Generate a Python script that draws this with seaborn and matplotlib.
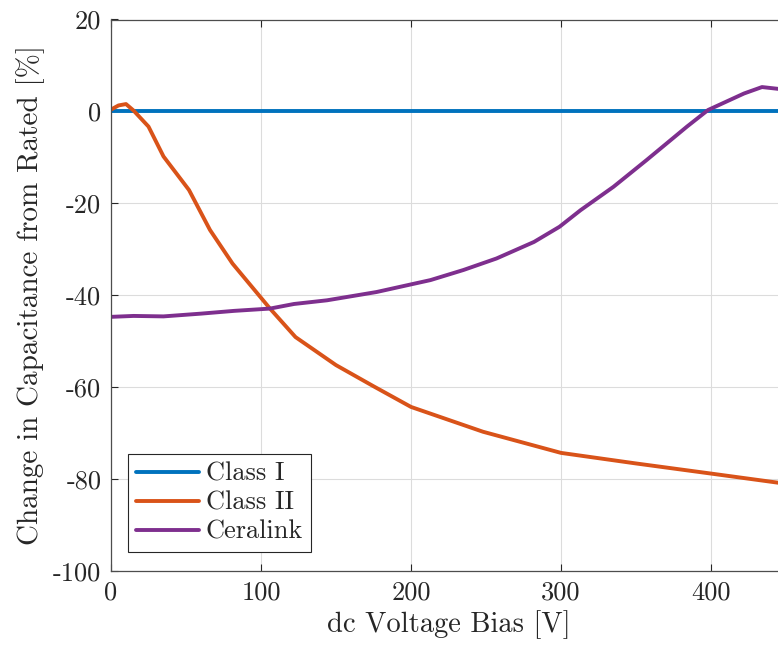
import numpy as np
import pandas as pd
import matplotlib
matplotlib.use("Agg")
import matplotlib.pyplot as plt
import seaborn as sns

# ---- data ----
class1_x = [0, 450]
class1_y = [0, 0]

class2_x = [0, 5, 10, 15, 25, 35, 52, 66, 81, 106, 123, 150, 175, 200, 248, 300, 350, 400, 445]
class2_y = [0.4, 1.3, 1.6, 0.2, -3.3, -9.8, -17.1, -25.8, -33.1, -42.9, -49.1, -55.2, -59.8, -64.3, -69.7, -74.3, -76.6, -78.8, -80.8]

ceralink_x = [0, 15, 35, 60, 82, 106, 122, 144, 177, 213, 235, 257, 282, 299, 313, 335, 357, 384, 398, 422, 434, 445]
ceralink_y = [-44.7, -44.5, -44.6, -44.0, -43.4, -42.9, -41.9, -41.1, -39.3, -36.7, -34.5, -32.0, -28.4, -25.1, -21.5, -16.4, -10.6, -3.3, 0.3, 3.9, 5.3, 4.9]

series_names = ["Class I", "Class II", "Ceralink"]
colors = ["#0072BD", "#D95319", "#7E2F8E"]

xticks = [0, 100, 200, 300, 400]
yticks = [-100, -80, -60, -40, -20, 0, 20]

df = pd.concat([
    pd.DataFrame({"x": class1_x, "y": class1_y, "s": series_names[0]}),
    pd.DataFrame({"x": class2_x, "y": class2_y, "s": series_names[1]}),
    pd.DataFrame({"x": ceralink_x, "y": ceralink_y, "s": series_names[2]}),
], ignore_index=True)

sns.set_style("white")
plt.rcParams["font.family"] = ["cmr10", "DejaVu Serif"]
plt.rcParams["mathtext.fontset"] = "cm"
plt.rcParams["axes.unicode_minus"] = False
plt.rcParams["axes.formatter.use_mathtext"] = True

fig = plt.figure(figsize=(7.78, 6.46), dpi=100)
ax = fig.add_axes([111 / 778, 1 - 571 / 646, (786 - 111) / 778, (571 - 19.5) / 646])

sns.lineplot(data=df, x="x", y="y", hue="s", palette=colors, hue_order=series_names,
             linewidth=2.8, sort=False, estimator=None, ax=ax)

ax.set_xlim(0, 450)
ax.set_ylim(-100, 20)
ax.set_xticks(xticks)
ax.set_yticks(yticks)
ax.set_xticklabels([str(v) for v in xticks])
ax.set_yticklabels([str(v) for v in yticks])
ax.grid(True, color="#dcdcdc", linewidth=0.8)
ax.set_axisbelow(True)
for sp in ax.spines.values():
    sp.set_color("#4d4d4d")
    sp.set_linewidth(0.9)
ax.tick_params(direction="in", length=5, width=0.8, colors="#262626", labelsize=19,
               top=True, right=True, bottom=True, left=True, pad=7)
ax.set_xlabel("dc Voltage Bias [V]", fontsize=20.5, color="#262626", labelpad=4)
ax.set_ylabel("Change in Capacitance from Rated [%]", fontsize=21, color="#262626", labelpad=6)

leg = ax.legend(loc="lower left", bbox_to_anchor=(0.025, 0.035), fontsize=19,
                frameon=True, fancybox=False, edgecolor="#262626", framealpha=1,
                handlelength=2.4, borderpad=0.3, labelspacing=0.2, handletextpad=0.25,
                borderaxespad=0)
leg.get_frame().set_linewidth(0.8)
for t in leg.get_texts():
    t.set_color("#262626")

fig.savefig("out.png", dpi=100)
